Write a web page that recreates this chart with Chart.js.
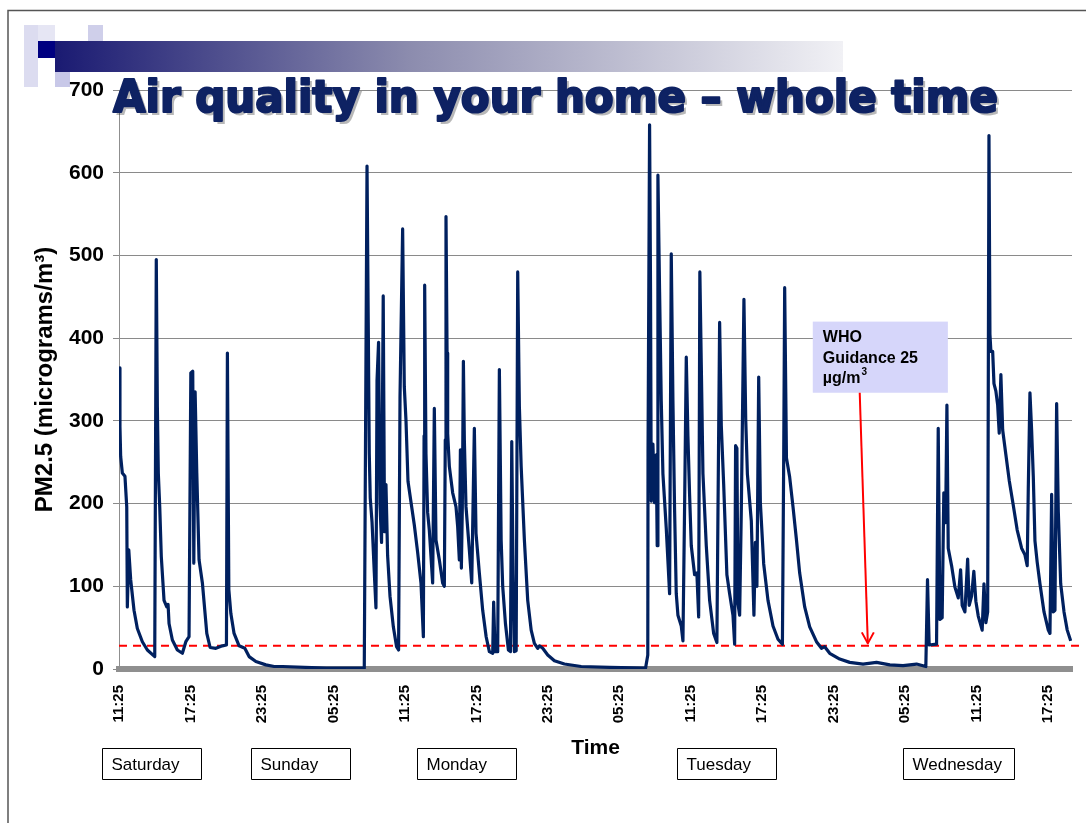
<!DOCTYPE html>
<html>
<head>
<meta charset="utf-8">
<title>Air quality in your home – whole time</title>
<script src="https://cdn.jsdelivr.net/npm/chart.js@4.4.1/dist/chart.umd.min.js"></script>
<style>
  html, body { margin: 0; padding: 0; background: #fff; }
  #wrap { width: 1086px; height: 823px; position: relative; }
</style>
</head>
<body>
<div id="wrap"><canvas id="pmChart"></canvas></div>
<script>
// PM2.5 readings, hours since Saturday 11:25 on the chart's time axis
const satHours = [0.00, 0.08, 0.14, 0.28, 0.50, 0.65, 0.70, 0.82, 0.98, 1.26, 1.54, 1.96, 2.38, 3.00, 3.13, 3.22, 3.30, 3.42, 3.55, 3.78,
  4.01, 4.12, 4.20, 4.48, 4.90, 5.32, 5.61, 5.88, 6.03, 6.19, 6.28, 6.39, 6.53, 6.72, 7.00, 7.37, 7.65, 8.13, 8.68, 9.02,
  9.10, 9.22, 9.39, 9.66, 10.08, 10.56, 10.92, 11.49, 12.33, 13.03];
const satPm = [364, 293, 257, 237, 233, 196, 75, 144, 108, 71, 49, 33, 23, 15, 495, 317, 237, 196, 136, 83,
  75, 78, 55, 35, 23, 19, 33, 39, 358, 360, 128, 335, 237, 132, 104, 43, 26, 25, 28, 29,
  382, 96, 67, 43, 28, 25, 15, 9, 5, 3];

const monHours = [13.74, 17.39, 20.59, 20.82, 20.92, 21.01, 21.09, 21.24, 21.43, 21.57,
  21.66, 21.79, 21.91, 22.04, 22.18, 22.29, 22.41, 22.55, 22.75, 23.03,
  23.30, 23.47, 23.59, 23.70, 23.81, 23.95, 24.09, 24.26, 24.51, 24.79,
  25.07, 25.35, 25.55, 25.61, 25.66, 25.77, 25.91, 26.05, 26.33, 26.47,
  26.61, 26.89, 27.17, 27.31, 27.39, 27.45, 27.54, 27.59, 27.73, 28.01,
  28.29, 28.43, 28.57, 28.66, 28.74, 28.82, 28.91, 28.99, 29.13, 29.41,
  29.61, 29.83, 29.97, 30.25, 30.53, 30.82, 31.09, 31.37, 31.45, 31.57,
  31.79, 31.93, 32.08, 32.21, 32.44, 32.69, 32.86, 32.97, 33.08, 33.19,
  33.34, 33.47, 33.61, 33.76, 34.03, 34.31, 34.60, 34.87, 35.15, 35.29,
  35.57, 35.99, 36.55, 37.39, 38.80, 41.18, 44.20];
const monPm = [3, 1, 1, 608, 423, 260, 207, 178, 117, 74,
  349, 395, 198, 153, 451, 166, 223, 137, 88, 51,
  27, 23, 329, 432, 532, 341, 301, 227, 202, 174,
  141, 104, 39, 282, 464, 260, 189, 168, 104, 315,
  156, 132, 104, 100, 277, 547, 382, 285, 245, 213,
  196, 172, 132, 265, 122, 196, 372, 277, 196, 144,
  104, 291, 164, 116, 71, 39, 21, 19, 81, 21,
  21, 362, 156, 100, 55, 23, 21, 275, 116, 21,
  22, 480, 317, 245, 156, 83, 47, 31, 25, 28,
  25, 17, 10, 6, 3, 2, 1];

const tueHours = [44.39, 44.41, 44.54, 44.62, 44.68, 44.82, 44.96, 45.10, 45.18, 45.24,
  45.38, 45.52, 45.66, 45.94, 46.22, 46.36, 46.50, 46.64, 46.78, 46.92,
  47.20, 47.34, 47.48, 47.62, 47.76, 47.90, 48.04, 48.32, 48.51, 48.66,
  48.76, 48.88, 49.02, 49.30, 49.58, 49.92, 50.19, 50.28, 50.42, 50.56,
  50.76, 51.03, 51.26, 51.54, 51.68, 51.76, 51.87, 51.96, 52.10, 52.24,
  52.46, 52.61, 52.75, 53.08, 53.30, 53.42, 53.55, 53.70, 53.84, 54.12,
  54.48, 54.90, 55.32, 55.69, 55.80, 55.88, 56.03, 56.30, 56.58, 56.87,
  57.14, 57.56, 57.98, 58.55, 58.97, 59.24, 59.66, 60.50, 61.34, 62.46,
  63.59, 64.71, 65.82, 66.95, 67.73];
const tuePm = [17, 265, 658, 456, 203, 272, 201, 259, 149, 597,
  456, 324, 236, 170, 91, 502, 324, 192, 91, 65,
  52, 34, 197, 377, 281, 210, 149, 114, 116, 63,
  480, 368, 236, 149, 83, 43, 32, 188, 419, 294,
  223, 114, 91, 65, 30, 270, 267, 79, 65, 192,
  447, 302, 236, 179, 65, 153, 100, 353, 201, 127,
  83, 52, 36, 30, 259, 461, 255, 232, 196, 156,
  116, 75, 51, 33, 25, 27, 19, 12, 8, 6,
  8, 5, 4, 6, 3];

const wedHours = [67.87, 68.01, 68.63, 68.77, 68.91, 69.10, 69.24, 69.39, 69.50, 69.61,
  69.89, 70.17, 70.45, 70.65, 70.78, 71.01, 71.24, 71.37, 71.57, 71.76,
  71.93, 72.13, 72.46, 72.61, 72.77, 72.92, 73.03, 73.11, 73.19, 73.34,
  73.45, 73.61, 73.76, 73.89, 74.03, 74.18, 74.45, 74.73, 75.07, 75.40,
  75.77, 76.05, 76.24, 76.33, 76.47, 76.61, 76.75, 76.89, 77.08, 77.31,
  77.65, 78.01, 78.15, 78.29, 78.43, 78.57, 78.71, 78.85, 79.05, 79.33,
  79.60, 79.89];
const wedPm = [108, 29, 30, 291, 60, 62, 213, 177, 319, 146,
  125, 99, 86, 120, 77, 69, 133, 77, 88, 118,
  82, 64, 47, 103, 56, 69, 645, 405, 384, 384,
  345, 336, 319, 285, 356, 289, 259, 228, 198, 168,
  146, 138, 125, 218, 334, 289, 233, 155, 129, 103,
  69, 47, 43, 211, 69, 71, 321, 190, 103, 69,
  47, 34];

const tickLabels = ["11:25", "17:25", "23:25", "05:25", "11:25", "17:25", "23:25",
  "05:25", "11:25", "17:25", "23:25", "05:25", "11:25", "17:25"];

const dayNames = ["Saturday", "Sunday", "Monday", "Tuesday", "Wednesday"];
const dayStart = [-1.43, 11.09, 25.04, 46.81, 65.8];

const whoLimit = 28;
const whoLines = ["WHO", "Guidance 25", "µg/m"];

const allHours = satHours.concat(monHours, tueHours, wedHours);
const allPm = satPm.concat(monPm, tuePm, wedPm);
const series = allHours.map((h, i) => ({ x: h, y: allPm[i] }));

const slideDecor = {
  id: "slideDecor",
  beforeDraw(chart) {
    const ctx = chart.ctx;
    ctx.save();
    ctx.fillStyle = "#fff";
    ctx.fillRect(0, 0, chart.width, chart.height);
    // slide frame
    ctx.strokeStyle = "#555";
    ctx.lineWidth = 1.5;
    ctx.beginPath();
    ctx.moveTo(8, chart.height);
    ctx.lineTo(8, 10.5);
    ctx.lineTo(chart.width, 10.5);
    ctx.stroke();
    // title squares
    ctx.fillStyle = "#dcdcf0"; ctx.fillRect(24, 25, 14, 62);
    ctx.fillStyle = "#e6e6f4"; ctx.fillRect(38, 25, 17, 16);
    ctx.fillStyle = "#cfcfea"; ctx.fillRect(88, 25, 15, 16);
    ctx.fillStyle = "#b4b4dc"; ctx.fillRect(55, 58, 15, 14);
    ctx.fillStyle = "#c8c8e8"; ctx.fillRect(55, 72, 15, 15);
    const g = ctx.createLinearGradient(55, 0, 843, 0);
    g.addColorStop(0, "#1a1a72");
    g.addColorStop(0.45, "#8c8cae");
    g.addColorStop(1, "#f1f1f5");
    ctx.fillStyle = g; ctx.fillRect(55, 41, 788, 31);
    ctx.fillStyle = "#000080"; ctx.fillRect(38, 41, 17, 17);
    ctx.restore();
  },
  afterDraw(chart) {
    const ctx = chart.ctx;
    const xs = chart.scales.x, ys = chart.scales.y;
    const area = chart.chartArea;
    ctx.save();

    // slide title
    const title = "Air quality in your home – whole time";
    ctx.font = "bold 44px 'DejaVu Sans'";
    const tw = ctx.measureText(title).width;
    const sx = 885 / tw;
    ctx.translate(113, 112);
    ctx.scale(sx, 1);
    ctx.textBaseline = "alphabetic";
    ctx.fillStyle = "rgba(0,0,0,0.28)";
    ctx.fillText(title, 3 / sx, 3);
    ctx.fillStyle = "#0e2263";
    ctx.strokeStyle = "#0e2263";
    ctx.lineWidth = 2.2;
    ctx.lineJoin = "round";
    ctx.fillText(title, 0, 0);
    ctx.strokeText(title, 0, 0);
    ctx.setTransform(1, 0, 0, 1, 0, 0);
    ctx.scale(chart.currentDevicePixelRatio, chart.currentDevicePixelRatio);

    // day boxes under the axis
    ctx.font = "17px 'Liberation Sans'";
    ctx.textBaseline = "middle";
    ctx.lineWidth = 1;
    const boxTop = area.bottom + 79;
    dayNames.forEach((name, i) => {
      const left = Math.round(xs.getPixelForValue(dayStart[i])) + 0.5;
      const w = Math.max(99, Math.round(ctx.measureText(name).width) + 22);
      ctx.fillStyle = "#fff";
      ctx.fillRect(left, boxTop + 0.5, w, 31);
      ctx.strokeStyle = "#000";
      ctx.strokeRect(left, boxTop + 0.5, w, 31);
      ctx.fillStyle = "#000";
      ctx.fillText(name, left + 9, boxTop + 17);
    });

    // WHO note and arrow
    const bx0 = xs.getPixelForValue(58.24), bx1 = xs.getPixelForValue(69.58);
    const by0 = ys.getPixelForValue(420), by1 = ys.getPixelForValue(334);
    ctx.fillStyle = "#d6d6fa";
    ctx.fillRect(bx0, by0, bx1 - bx0, by1 - by0);
    ctx.fillStyle = "#000";
    ctx.font = "bold 16px 'Liberation Sans'";
    ctx.textBaseline = "alphabetic";
    ctx.fillText(whoLines[0], bx0 + 10, by0 + 20);
    ctx.fillText(whoLines[1], bx0 + 10, by0 + 41);
    ctx.fillText(whoLines[2], bx0 + 10, by0 + 61);
    const mw = ctx.measureText(whoLines[2]).width;
    ctx.font = "bold 10px 'Liberation Sans'";
    ctx.fillText("3", bx0 + 10 + mw + 1, by0 + 53);

    const ax0 = xs.getPixelForValue(62.18), ay0 = by1;
    const ax1 = xs.getPixelForValue(62.86), ay1 = ys.getPixelForValue(whoLimit + 3);
    ctx.strokeStyle = "#ff0000";
    ctx.lineWidth = 2;
    ctx.beginPath();
    ctx.moveTo(ax0, ay0);
    ctx.lineTo(ax1, ay1);
    ctx.stroke();
    ctx.beginPath();
    ctx.moveTo(ax1 - 6, ay1 - 11);
    ctx.lineTo(ax1, ay1);
    ctx.lineTo(ax1 + 6, ay1 - 11);
    ctx.stroke();
    ctx.restore();
  },
};

new Chart(document.getElementById("pmChart"), {
  type: "line",
  data: {
    datasets: [
      {
        label: "PM2.5",
        data: series,
        borderColor: "#00205f",
        borderWidth: 3.2,
        borderJoinStyle: "round",
        pointRadius: 0,
        tension: 0,
        fill: false,
      },
      {
        label: "WHO guidance",
        data: [{ x: 0, y: whoLimit }, { x: 80.7, y: whoLimit }],
        borderColor: "#ff0000",
        borderWidth: 2,
        borderDash: [8, 6],
        pointRadius: 0,
        fill: false,
        clip: false,
      },
    ],
  },
  options: {
    responsive: true,
    maintainAspectRatio: false,
    animation: false,
    layout: { padding: { top: 90, right: 14, left: 0, bottom: 0 } },
    plugins: {
      legend: { display: false },
      tooltip: { enabled: false },
    },
    scales: {
      x: {
        type: "linear",
        min: 0,
        max: 80,
        afterFit: (s) => { s.height = 154; },
        grid: { display: false },
        border: { display: true, color: "#8f8f8f", width: 6 },
        ticks: {
          stepSize: 6,
          includeBounds: false,
          autoSkip: false,
          maxRotation: 90,
          minRotation: 90,
          padding: 8,
          color: "#000",
          font: { family: "'Liberation Sans'", size: 15, weight: "bold" },
          callback: (v, i) => tickLabels[i],
        },
        title: {
          display: true,
          text: "Time",
          color: "#000",
          font: { family: "'Liberation Sans'", size: 21, weight: "bold" },
          padding: { top: 0, bottom: 62 },
        },
      },
      y: {
        min: 0,
        max: 700,
        afterFit: (s) => { s.width = 119; },
        grid: { color: "#8a8a8a", lineWidth: 1, drawTicks: true, tickLength: 6 },
        border: { display: true, color: "#8f8f8f", width: 1 },
        ticks: {
          stepSize: 100,
          padding: 9,
          color: "#000",
          font: { family: "'Liberation Sans'", size: 21, weight: "bold" },
        },
        title: {
          display: true,
          text: "PM2.5 (micrograms/m³)",
          color: "#000",
          font: { family: "'Liberation Sans'", size: 24, weight: "bold" },
          padding: { top: 31, bottom: 0 },
        },
      },
    },
  },
  plugins: [slideDecor],
});
</script>
</body>
</html>
